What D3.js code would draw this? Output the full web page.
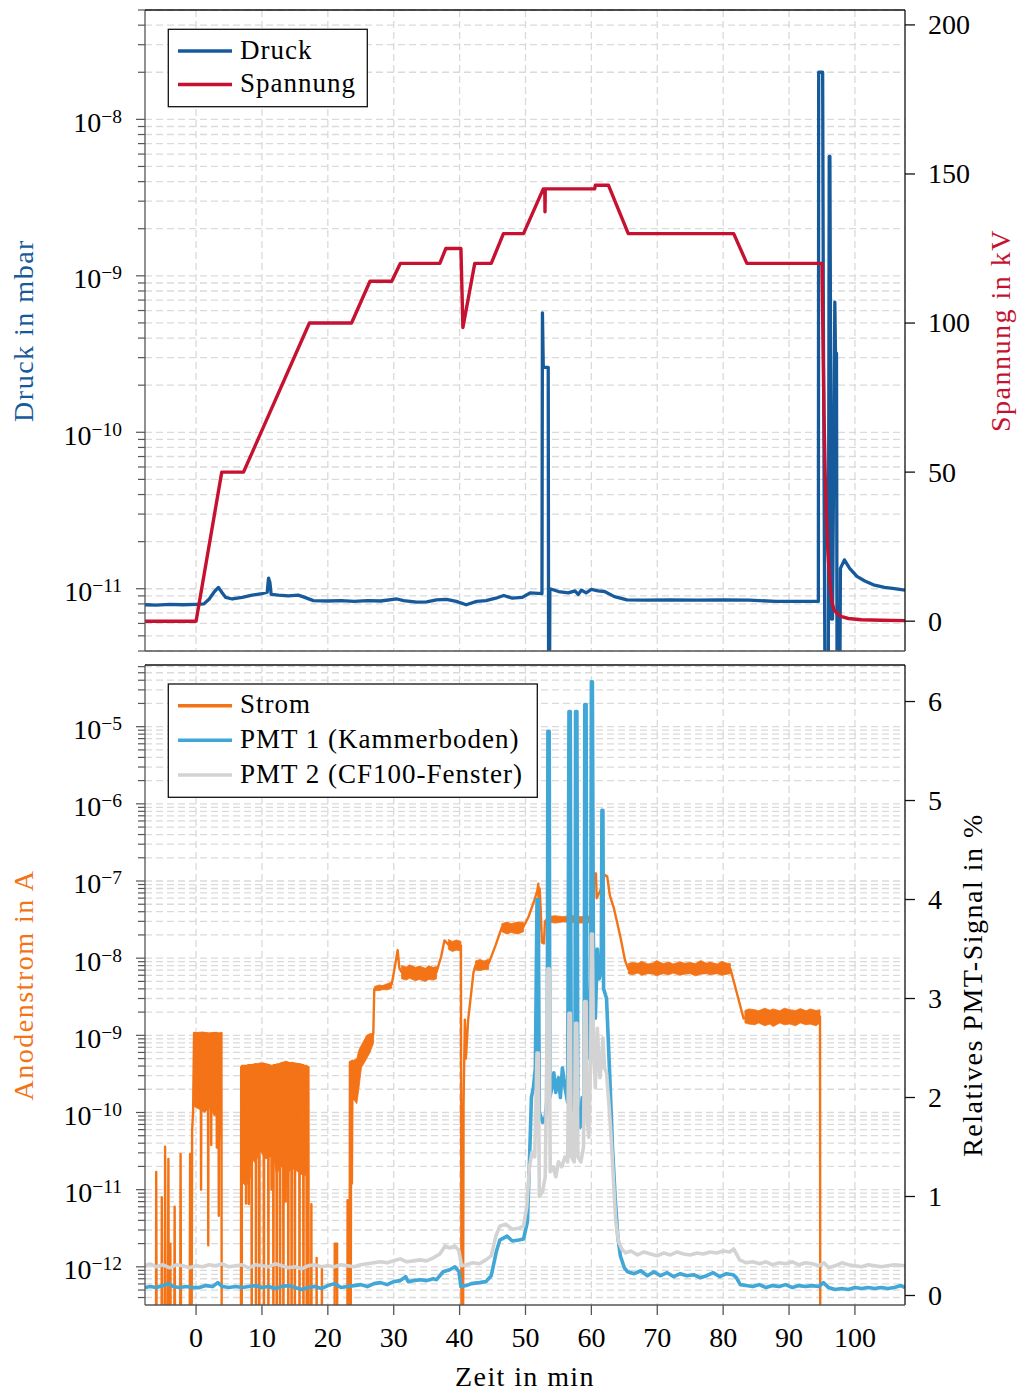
<!DOCTYPE html>
<html>
<head>
<meta charset="utf-8">
<script src="https://cdn.jsdelivr.net/npm/d3@7"></script>
<style>
  body { margin: 0; background: #fff; }
  text { font-family: "Liberation Serif", "Times New Roman", serif; fill: #000; }
</style>
</head>
<body>
<svg id="chart" width="1019" height="1392"></svg>
<script>
// ---------------------------------------------------------------------------
// Data (time in min)
// ---------------------------------------------------------------------------
const OFF = 1e-14; // reading below the bottom of the log axis

const timeDomain = [-7.75, 107.6];
const timeTicks = [0, 10, 20, 30, 40, 50, 60, 70, 80, 90, 100];

// Druck in mbar
const druck = [
  [-7.75, 7.9e-12], [-6, 7.85e-12], [-4, 7.95e-12], [-2, 7.9e-12], [0, 7.95e-12],
  [1.2, 8.0e-12], [2.0, 8.6e-12], [2.8, 9.6e-12], [3.4, 1.02e-11], [3.9, 9.5e-12],
  [4.5, 8.8e-12], [5.5, 8.6e-12], [7, 8.8e-12], [8.5, 9.1e-12], [10, 9.3e-12],
  [10.8, 9.5e-12], [11.0, 1.17e-11], [11.2, 1.1e-11], [11.4, 9.2e-12], [12.5, 9.1e-12],
  [14, 9.0e-12], [15.5, 9.1e-12], [16.5, 8.8e-12], [17.8, 8.4e-12], [20, 8.35e-12],
  [22, 8.4e-12], [24, 8.3e-12], [26, 8.4e-12], [28, 8.35e-12], [30.5, 8.6e-12],
  [31.5, 8.4e-12], [33.5, 8.2e-12], [35, 8.25e-12], [36.5, 8.5e-12], [38, 8.55e-12],
  [39.5, 8.3e-12], [41, 7.9e-12], [42.6, 8.3e-12], [44, 8.4e-12], [45.5, 8.7e-12],
  [46.7, 9.05e-12], [48, 8.7e-12], [49.5, 8.8e-12], [50.7, 9.4e-12], [52.5, 9.3e-12],
  [52.57, 5.8e-10], [52.7, 2.6e-10], [53.45, 2.6e-10], [53.55, 1e-13], [53.7, 1.0e-11],
  [55, 9.6e-12], [56.5, 9.4e-12], [57.5, 9.7e-12], [58, 9.2e-12], [58.5, 9.8e-12],
  [59.2, 9.4e-12], [60, 9.9e-12], [61, 9.7e-12], [62, 9.6e-12], [63.5, 8.9e-12],
  [65.4, 8.5e-12], [68, 8.45e-12], [72, 8.5e-12], [76, 8.45e-12], [80, 8.5e-12],
  [84, 8.45e-12], [88, 8.3e-12], [92, 8.3e-12], [94.45, 8.3e-12],
  [94.5, 2.0e-8], [95.1, 2.0e-8], [95.2, 7.7e-10], [95.3, 7.6e-11], [95.6, 1e-13],
  [95.9, 1e-13], [96.1, 5.8e-9], [96.2, 5.8e-9], [96.45, 6.4e-12], [96.6, 6.4e-12],
  [96.95, 6.8e-10], [97.05, 3.2e-10], [97.2, 3.2e-10], [97.35, 1e-13], [97.55, 1e-13],
  [97.8, 1.35e-11], [98.4, 1.53e-11], [99.2, 1.35e-11], [100.3, 1.2e-11],
  [101.5, 1.12e-11], [102.8, 1.06e-11], [104.5, 1.02e-11], [106, 1.0e-11], [107.6, 9.8e-12]
];

// Spannung in kV
const spannung = [
  [-7.75, 0], [0, 0], [3.9, 50], [7.2, 50], [17.2, 100], [23.6, 100], [26.4, 114],
  [29.7, 114], [31.0, 120], [37.0, 120], [37.9, 125], [40.2, 125], [40.5, 98.5],
  [42.3, 120], [44.8, 120], [46.65, 130], [49.7, 130], [52.7, 145], [52.93, 145],
  [52.96, 137.3], [53.0, 145], [60.5, 145], [60.6, 146.2], [62.6, 146.2], [65.6, 130],
  [81.6, 130], [83.6, 120], [95.0, 120], [95.15, 95], [95.3, 70], [95.5, 48],
  [95.7, 34], [95.9, 23], [96.2, 13], [96.5, 6.5], [96.8, 4], [97.3, 2.5], [98, 1.5],
  [99, 0.9], [101, 0.5], [104, 0.3], [107.6, 0.2]
];

// Anodenstrom in A
const strom = [
  [-7.75, OFF], [-6.1, OFF], [-6.05, 1.7e-11], [-5.95, OFF],
  [-5.25, OFF], [-5.2, 8e-12], [-5.1, OFF],
  [-4.75, OFF], [-4.7, 3.6e-11], [-4.6, OFF],
  [-4.3, OFF], [-4.2, 2.5e-11], [-4.1, OFF],
  [-4.0, OFF], [-3.9, 2e-12], [-3.8, OFF],
  [-3.35, OFF], [-3.25, 6e-12], [-3.15, OFF],
  [-2.45, OFF], [-2.35, 2.9e-11], [-2.25, OFF],
  [-1.0, OFF], [-0.9, 2.9e-11], [-0.8, OFF],
  [-0.7, OFF], [-0.6, 5.8e-11], [-0.45, 1.0e-10], [-0.3, 1.07e-9],
  [0.7, 1.05e-9], [0.76, 1.0e-11], [0.82, 1.08e-9],
  [1.8, 1.06e-9], [1.85, 1.9e-12], [1.9, 1.05e-9],
  [2.25, 1.05e-9], [2.3, 3.8e-11], [2.35, 1.06e-9],
  [3.1, 1.07e-9], [3.15, 3.5e-11], [3.2, 1.05e-9],
  [3.4, 1.06e-9], [3.45, 4.6e-12], [3.5, 1.05e-9],
  [3.85, 1.07e-9], [3.9, OFF],
  [6.8, OFF], [6.85, 3.9e-10], [6.9, 3.9e-10], [6.93, OFF], [6.97, 4.0e-10],
  [7.55, 4.0e-10], [7.59, 6.6e-12], [7.63, 4.0e-10],
  [7.96, 4.1e-10], [8.0, 6.5e-12], [8.04, 4.1e-10],
  [8.41, 4.1e-10], [8.45, OFF], [8.49, 4.1e-10],
  [9.06, 4.2e-10], [9.1, OFF], [9.14, 4.2e-10],
  [9.56, 4.2e-10], [9.6, OFF], [9.64, 4.3e-10],
  [10.26, 4.3e-10], [10.3, OFF], [10.34, 4.2e-10],
  [10.94, 4.1e-10], [10.98, OFF], [11.02, 4.1e-10],
  [11.41, 4.0e-10], [11.45, 1.0e-11], [11.49, 4.0e-10],
  [11.7, 4.0e-10], [11.74, OFF], [11.78, 4.1e-10],
  [12.2, 4.1e-10], [12.24, OFF], [12.28, 4.2e-10],
  [12.71, 4.2e-10], [12.75, OFF], [12.79, 4.3e-10],
  [13.22, 4.4e-10], [13.26, OFF], [13.3, 4.4e-10],
  [13.56, 4.5e-10], [13.6, 7e-12], [13.64, 4.5e-10],
  [13.96, 4.4e-10], [14.0, OFF], [14.04, 4.4e-10],
  [14.46, 4.3e-10], [14.5, OFF], [14.54, 4.4e-10],
  [14.96, 4.3e-10], [15.0, OFF], [15.04, 4.3e-10],
  [15.66, 4.2e-10], [15.7, OFF], [15.74, 4.2e-10],
  [16.26, 4.1e-10], [16.3, OFF], [16.34, 4.0e-10],
  [16.76, 4.0e-10], [16.8, OFF], [16.84, 3.9e-10],
  [17.05, 3.9e-10], [17.1, OFF],
  [17.45, OFF], [17.5, 6.5e-12], [17.55, OFF],
  [18.25, OFF], [18.3, 1.3e-12], [18.35, OFF],
  [19.05, OFF], [19.1, 1.0e-12], [19.15, OFF],
  [21.0, OFF], [21.05, 2.0e-12], [21.4, 2.0e-12], [21.45, OFF],
  [22.95, OFF], [23.0, 7.3e-12], [23.05, OFF],
  [23.3, OFF], [23.35, 4.5e-10], [23.45, OFF], [23.55, 4.6e-10], [23.65, 1.2e-11],
  [23.75, 4.7e-10], [23.85, 1.5e-10], [24.4, 2.5e-10], [24.7, 3.5e-10], [25.1, 5.5e-10],
  [25.9, 7.0e-10], [26.4, 8.5e-10], [26.9, 1.05e-9], [27.05, 4.0e-9],
  [27.6, 4.2e-9], [28.3, 4.3e-9], [29.0, 4.4e-9], [29.7, 4.6e-9], [30.2, 8e-9],
  [30.6, 1.27e-8], [30.85, 7.5e-9], [31.2, 6.6e-9], [32, 6.5e-9], [33, 6.4e-9],
  [34, 6.2e-9], [35, 6.4e-9], [36, 6.3e-9], [36.5, 6.6e-9], [37.2, 1.05e-8],
  [37.7, 1.7e-8], [38.3, 1.5e-8], [39, 1.45e-8], [39.7, 1.4e-8], [40.2, 1.45e-8],
  [40.3, OFF], [40.5, OFF], [40.6, 1.3e-10], [40.8, 1.6e-9], [40.95, 5e-10],
  [41.3, 1.6e-9], [41.7, 3.2e-9], [42.1, 6.5e-9], [42.4, 8.0e-9], [43, 8.2e-9],
  [43.7, 8.3e-9], [44.4, 8.5e-9], [45.5, 1.5e-8], [46.4, 2.5e-8], [47.5, 2.5e-8],
  [48.5, 2.45e-8], [49.7, 2.55e-8], [50.5, 3.5e-8], [51.3, 5.5e-8], [51.8, 7.5e-8],
  [51.95, 9.2e-8], [52.05, 2.3e-8], [52.15, 8.0e-8], [52.3, 4.5e-8], [52.5, 1.6e-8],
  [52.8, 1.55e-8], [52.95, 3.0e-8], [53.3, 3.2e-8], [54, 3.1e-8], [55, 3.2e-8],
  [56, 3.25e-8], [57, 3.3e-8], [58, 3.2e-8], [59, 3.2e-8], [60.3, 3.3e-8],
  [60.4, 1.25e-7], [60.7, 1.25e-7], [60.8, 6e-8], [61.5, 8e-8], [62.0, 1.2e-7],
  [62.4, 1.15e-7], [62.8, 6.5e-8], [63.4, 4.5e-8], [64.4, 1.9e-8], [65.1, 9.4e-9],
  [65.6, 7.2e-9], [67, 7.3e-9], [69, 7.2e-9], [71, 7.4e-9], [73, 7.3e-9], [75, 7.2e-9],
  [77, 7.3e-9], [79, 7.4e-9], [81.1, 7.3e-9], [82.3, 3.0e-9], [83.1, 1.65e-9],
  [84, 1.8e-9], [86, 1.75e-9], [88, 1.8e-9], [90, 1.75e-9], [92, 1.8e-9],
  [94.7, 1.75e-9], [94.75, OFF]
];

// Spread of the fast-fluctuating current: [t, lower, upper]
const stromSpread = [
  [[-0.3, 1.2e-10, 1.05e-9], [0.5, 1.1e-10, 1.1e-9], [1.3, 1.0e-10, 1.05e-9], [2.0, 1.15e-10, 1.07e-9],
   [2.8, 9e-11, 1.08e-9], [3.4, 1.0e-10, 1.05e-9], [3.85, 4e-11, 1.07e-9]],
  [[6.85, 1.3e-11, 3.9e-10], [7.6, 1.1e-11, 4.0e-10], [8.2, 1.4e-11, 4.1e-10], [8.4, 2.6e-11, 4.1e-10],
   [9.0, 2.2e-11, 4.3e-10], [9.7, 3.2e-11, 4.2e-10], [10.6, 2.5e-11, 4.3e-10], [11.7, 2.8e-11, 4.0e-10],
   [12.2, 1.6e-11, 4.1e-10], [13.0, 2.0e-11, 4.4e-10], [13.8, 1.6e-11, 4.5e-10], [14.6, 1.9e-11, 4.3e-10],
   [15.5, 1.7e-11, 4.3e-10], [16.3, 1.5e-11, 4.1e-10], [17.05, 1.6e-11, 3.9e-10]],
  [[23.85, 1.5e-10, 4.7e-10], [24.4, 1.3e-10, 5.0e-10], [24.7, 2.0e-10, 6.4e-10], [25.1, 3.8e-10, 7.5e-10],
   [25.9, 5.0e-10, 1.0e-9], [26.4, 6.0e-10, 1.05e-9], [26.95, 8e-10, 1.07e-9]],
  [[27.1, 3.8e-9, 4.3e-9], [27.8, 3.8e-9, 4.5e-9], [28.3, 3.9e-9, 4.4e-9], [29.1, 3.9e-9, 4.7e-9],
   [29.7, 4.1e-9, 4.9e-9]],
  [[31.2, 5.4e-9, 8.0e-9], [31.9, 5.2e-9, 7.7e-9], [32.4, 5.5e-9, 8.2e-9], [33.3, 5.1e-9, 7.6e-9],
   [33.9, 5.3e-9, 7.9e-9], [34.8, 5.0e-9, 7.4e-9], [35.3, 5.3e-9, 8.0e-9], [36.0, 5.2e-9, 7.6e-9],
   [36.5, 5.4e-9, 7.8e-9]],
  [[38.3, 1.3e-8, 1.75e-8], [38.9, 1.22e-8, 1.65e-8], [39.5, 1.27e-8, 1.72e-8], [40.2, 1.25e-8, 1.65e-8]],
  [[42.4, 7.0e-9, 9.2e-9], [43.1, 6.9e-9, 9.6e-9], [43.7, 7.1e-9, 9.2e-9], [44.4, 7.2e-9, 9.7e-9]],
  [[46.4, 2.2e-8, 2.8e-8], [47.2, 2.05e-8, 2.95e-8], [47.8, 2.15e-8, 2.8e-8], [48.8, 2.05e-8, 2.95e-8],
   [49.7, 2.2e-8, 2.9e-8]],
  [[53.3, 2.95e-8, 3.45e-8], [54.5, 2.85e-8, 3.55e-8], [55.7, 2.95e-8, 3.45e-8], [57.0, 2.9e-8, 3.6e-8],
   [58.3, 2.85e-8, 3.45e-8], [60.3, 2.9e-8, 3.55e-8]],
  [[65.6, 6.3e-9, 8.5e-9], [66.2, 6.1e-9, 8.8e-9], [67.1, 6.4e-9, 8.6e-9], [67.6, 6.0e-9, 9.1e-9],
   [68.6, 6.3e-9, 8.4e-9], [69.4, 6.2e-9, 8.7e-9], [69.9, 5.9e-9, 9.3e-9], [70.9, 6.3e-9, 8.5e-9],
   [71.8, 6.1e-9, 8.9e-9], [72.4, 6.4e-9, 8.4e-9], [73.5, 6.0e-9, 9.0e-9], [74.1, 6.2e-9, 8.6e-9],
   [75.0, 6.3e-9, 8.8e-9], [75.8, 5.9e-9, 8.5e-9], [76.6, 6.2e-9, 9.3e-9], [77.5, 6.3e-9, 8.6e-9],
   [78.0, 6.1e-9, 8.9e-9], [79.1, 6.3e-9, 8.4e-9], [79.8, 6.0e-9, 9.1e-9], [80.6, 6.2e-9, 8.6e-9],
   [81.1, 6.3e-9, 8.5e-9]],
  [[83.3, 1.45e-9, 2.1e-9], [83.9, 1.4e-9, 2.2e-9], [84.8, 1.37e-9, 2.15e-9], [85.4, 1.45e-9, 2.08e-9],
   [86.3, 1.33e-9, 2.25e-9], [87.1, 1.4e-9, 2.12e-9], [87.6, 1.3e-9, 2.2e-9], [88.6, 1.45e-9, 2.08e-9],
   [89.3, 1.37e-9, 2.25e-9], [90.1, 1.4e-9, 2.15e-9], [91.0, 1.33e-9, 2.1e-9], [91.7, 1.45e-9, 2.22e-9],
   [92.6, 1.37e-9, 2.08e-9], [93.2, 1.4e-9, 2.2e-9], [94.1, 1.33e-9, 2.1e-9], [94.7, 1.45e-9, 2.15e-9]]
];

// Relatives PMT-Signal in %
const pmt1 = [
  [-7.75, 0.08], [-7, 0.09], [-6, 0.08], [-5, 0.1], [-4.2, 0.12], [-3.5, 0.09], [-2.5, 0.08],
  [-1.5, 0.09], [-0.5, 0.08], [0.5, 0.08], [1.5, 0.1], [2.5, 0.09], [3.3, 0.13], [4, 0.09],
  [5, 0.08], [6, 0.09], [7, 0.08], [8, 0.09], [9, 0.1], [10, 0.08], [11, 0.09], [12, 0.07],
  [13, 0.09], [14, 0.1], [15, 0.08], [16, 0.06], [17, 0.08], [18, 0.09], [19, 0.07], [20, 0.1],
  [21, 0.12], [22, 0.08], [23, 0.09], [24, 0.1], [25, 0.11], [26, 0.09], [27, 0.12], [28, 0.13],
  [29, 0.11], [30, 0.14], [31, 0.15], [31.8, 0.19], [32.2, 0.14], [33, 0.15], [34, 0.16],
  [35, 0.15], [36, 0.17], [36.5, 0.16], [37.5, 0.24], [38.5, 0.26], [39.3, 0.29], [39.9, 0.24],
  [40.2, 0.09], [41, 0.1], [41.8, 0.12], [43, 0.13], [44, 0.14], [44.8, 0.2], [45.6, 0.45],
  [46.1, 0.56], [47.2, 0.6], [48, 0.55], [49, 0.56], [49.7, 0.57], [50.3, 0.75], [50.6, 1.35],
  [50.9, 2.0], [51.2, 2.1], [51.5, 2.3], [51.75, 4.0], [51.95, 4.0], [52.1, 1.85], [52.6, 1.75],
  [53.0, 1.8], [53.3, 2.0], [53.4, 5.7], [53.6, 5.7], [53.7, 2.0], [54.0, 2.1], [54.3, 2.25],
  [54.6, 2.05], [55, 2.2], [55.3, 2.0], [55.6, 2.3], [56.0, 2.1], [56.4, 1.95], [56.6, 5.9],
  [56.8, 5.9], [56.95, 1.9], [57.5, 1.85], [57.6, 5.9], [57.8, 5.9], [57.95, 1.8], [58.3, 1.7],
  [58.6, 2.0], [58.9, 1.9], [59.0, 5.97], [59.2, 5.97], [59.3, 3.0], [59.6, 2.4], [59.9, 3.2],
  [60.0, 6.2], [60.15, 6.2], [60.3, 3.6], [60.6, 2.8], [60.9, 3.5], [61.2, 3.2], [61.5, 3.3],
  [61.6, 4.9], [61.75, 4.9], [61.85, 3.1], [62.3, 3.0], [62.8, 2.2], [63.2, 1.5], [63.6, 1.0],
  [64.0, 0.6], [64.4, 0.4], [65.0, 0.28], [65.5, 0.24], [66.5, 0.22], [67.5, 0.25], [68.5, 0.2],
  [69.5, 0.24], [70.5, 0.2], [71.5, 0.23], [72.5, 0.19], [73.5, 0.22], [74.5, 0.2], [75.5, 0.21],
  [76.5, 0.18], [77.5, 0.2], [78.5, 0.23], [79.5, 0.19], [80.5, 0.22], [81.5, 0.21], [82.0, 0.18],
  [82.6, 0.11], [83.5, 0.1], [84.5, 0.09], [85.5, 0.11], [86.5, 0.08], [87.5, 0.1], [88.5, 0.09],
  [89.5, 0.11], [90.5, 0.08], [91.5, 0.1], [92.5, 0.09], [93.5, 0.1], [94.5, 0.09], [95.2, 0.13],
  [96, 0.08], [97, 0.06], [98, 0.07], [99, 0.06], [100, 0.08], [101, 0.07], [102, 0.08],
  [103, 0.07], [104, 0.08], [105, 0.07], [106, 0.08], [107, 0.1], [107.6, 0.08]
];

const pmt2 = [
  [-7.75, 0.3], [-7, 0.32], [-6, 0.29], [-5, 0.31], [-4, 0.28], [-3, 0.31], [-2, 0.3], [-1, 0.28],
  [0, 0.3], [1, 0.29], [2, 0.31], [3, 0.3], [4, 0.32], [5, 0.29], [6, 0.3], [7, 0.31], [8, 0.28],
  [9, 0.31], [10, 0.3], [11, 0.29], [12, 0.32], [13, 0.3], [14, 0.28], [15, 0.29], [16, 0.27],
  [17, 0.3], [18, 0.31], [19, 0.29], [20, 0.3], [21, 0.29], [22, 0.31], [23, 0.3], [24, 0.29],
  [25, 0.31], [26, 0.32], [27, 0.33], [28, 0.34], [29, 0.33], [30, 0.35], [31, 0.37], [32, 0.34],
  [33, 0.35], [34, 0.36], [35, 0.35], [36, 0.38], [37, 0.42], [37.8, 0.5], [38.5, 0.48],
  [39.3, 0.5], [39.9, 0.45], [40.3, 0.3], [41, 0.31], [42, 0.33], [43, 0.32], [44, 0.36],
  [44.8, 0.4], [45.5, 0.6], [46.1, 0.7], [47, 0.72], [48, 0.67], [49, 0.68], [49.7, 0.7],
  [50.2, 0.9], [50.6, 1.3], [51.0, 1.45], [51.4, 1.4], [51.75, 2.45], [51.95, 2.45], [52.1, 1.0],
  [52.6, 1.05], [53.0, 1.2], [53.4, 3.3], [53.6, 3.3], [53.75, 1.25], [54.2, 1.3], [54.6, 1.2],
  [55, 1.35], [55.5, 1.3], [56, 1.4], [56.4, 1.35], [56.6, 2.85], [56.8, 2.85], [56.95, 1.4],
  [57.4, 1.35], [57.6, 2.75], [57.8, 2.75], [57.95, 1.4], [58.4, 1.35], [58.8, 1.5], [59.0, 2.97],
  [59.2, 2.97], [59.35, 1.8], [59.6, 1.6], [59.9, 2.4], [60.0, 3.65], [60.15, 3.65], [60.3, 2.6],
  [60.6, 2.1], [60.9, 2.7], [61.3, 2.2], [61.6, 2.4], [61.75, 2.6], [62.0, 2.3], [62.3, 2.25],
  [62.7, 1.9], [63.0, 1.6], [63.4, 1.1], [63.7, 0.75], [64.1, 0.55], [64.6, 0.47], [65.2, 0.43],
  [66, 0.45], [67, 0.41], [68, 0.44], [69, 0.42], [70, 0.4], [71, 0.43], [72, 0.41], [73, 0.44],
  [74, 0.42], [75, 0.41], [76, 0.43], [77, 0.42], [78, 0.44], [79, 0.43], [80, 0.45], [81, 0.44],
  [81.6, 0.47], [82.5, 0.36], [83.5, 0.33], [84.5, 0.34], [85.5, 0.32], [86.5, 0.34], [87.5, 0.31],
  [88.5, 0.33], [89.5, 0.32], [90.5, 0.34], [91.5, 0.31], [92.5, 0.33], [93.5, 0.32], [94.5, 0.3],
  [95.3, 0.33], [96, 0.28], [97, 0.3], [98, 0.33], [99, 0.31], [100, 0.3], [101, 0.29],
  [102, 0.31], [103, 0.3], [104, 0.29], [105, 0.3], [106, 0.31], [107.6, 0.3]
];

const druckTicks = [-11, -10, -9, -8];                 // exponents
const spannungTicks = [0, 50, 100, 150, 200];
const stromTicks = [-12, -11, -10, -9, -8, -7, -6, -5]; // exponents
const pmtTicks = [0, 1, 2, 3, 4, 5, 6];

// ---------------------------------------------------------------------------
// Layout and scales
// ---------------------------------------------------------------------------
const C = {
  druck: "#175a9c", spannung: "#c61230", strom: "#f37316",
  pmt1: "#41a7d6", pmt2: "#d3d3d3", grid: "#dadada"
};
const L = 145, R = 905;
const P1 = { top: 10, bottom: 651 };
const P2 = { top: 665, bottom: 1305 };

const svg = d3.select("#chart");
const x = d3.scaleLinear().domain(timeDomain).range([L, R]);
const yDruck = d3.scaleLog().domain([4e-12, 5e-8]).range([P1.bottom, P1.top]);
const yVolt = d3.scaleLinear().domain([-10, 205]).range([P1.bottom, P1.top]);
const yStrom = d3.scaleLog().domain([3.2e-13, 6.3e-5]).range([P2.bottom, P2.top]);
const yPmt = d3.scaleLinear().domain([-0.096, 6.369]).range([P2.bottom, P2.top]);

const defs = svg.append("defs");
[["clip1", P1], ["clip2", P2]].forEach(([id, p]) => {
  defs.append("clipPath").attr("id", id)
    .append("rect").attr("x", L).attr("y", p.top).attr("width", R - L).attr("height", p.bottom - p.top);
});

function minorValues(scale) {
  const [a, b] = scale.domain();
  const out = [];
  for (let e = Math.floor(Math.log10(a)); e <= Math.ceil(Math.log10(b)); e++) {
    for (let k = 1; k <= 9; k++) {
      const v = k * Math.pow(10, e);
      if (v >= a * 0.999 && v <= b * 1.001) out.push({ v, major: k === 1 });
    }
  }
  return out;
}

function grid(panel, yScale) {
  const g = svg.append("g");
  minorValues(yScale).forEach(d => {
    const y = yScale(d.v);
    g.append("line").attr("x1", L).attr("x2", R).attr("y1", y).attr("y2", y)
      .attr("stroke", C.grid).attr("stroke-width", 1.3).attr("stroke-dasharray", "7 4");
  });
  timeTicks.forEach(t => {
    g.append("line").attr("x1", x(t)).attr("x2", x(t)).attr("y1", panel.top).attr("y2", panel.bottom)
      .attr("stroke", C.grid).attr("stroke-width", 1.3).attr("stroke-dasharray", "7 4");
  });
}

function logAxis(panel, yScale, exps) {
  const g = svg.append("g");
  minorValues(yScale).forEach(d => {
    const y = yScale(d.v);
    g.append("line").attr("x1", L - (d.major ? 9 : 7)).attr("x2", L).attr("y1", y).attr("y2", y)
      .attr("stroke", "#555").attr("stroke-width", 1.2);
  });
  exps.forEach(e => {
    const y = yScale(Math.pow(10, e));
    const t = g.append("text").attr("x", 122).attr("y", y + 12.4)
      .attr("text-anchor", "end").attr("font-size", 28);
    t.append("tspan").text("10");
    t.append("tspan").attr("dy", -9).attr("font-size", 19.5).text("\u2212" + Math.abs(e));
  });
  g.append("line").attr("x1", L).attr("x2", L).attr("y1", panel.top).attr("y2", panel.bottom)
    .attr("stroke", "#555").attr("stroke-width", 1.3);
}

function linAxisRight(panel, yScale, ticks) {
  const g = svg.append("g");
  ticks.forEach(v => {
    const y = yScale(v);
    g.append("line").attr("x1", R).attr("x2", R + 10).attr("y1", y).attr("y2", y)
      .attr("stroke", "#111").attr("stroke-width", 1.3);
    g.append("text").attr("x", 928).attr("y", y + 9.4).attr("font-size", 28).text(v);
  });
  g.append("line").attr("x1", R).attr("x2", R).attr("y1", panel.top).attr("y2", panel.bottom)
    .attr("stroke", "#111").attr("stroke-width", 1.3);
  g.append("line").attr("x1", L).attr("x2", R).attr("y1", panel.top).attr("y2", panel.top)
    .attr("stroke", "#111").attr("stroke-width", 1.3);
  g.append("line").attr("x1", L).attr("x2", R).attr("y1", panel.bottom).attr("y2", panel.bottom)
    .attr("stroke", "#555").attr("stroke-width", 1.3);
}

function series(clip, data, yScale, color, width) {
  const line = d3.line().x(d => x(d[0])).y(d => yScale(d[1]));
  svg.append("path").attr("clip-path", `url(#${clip})`).attr("d", line(data))
    .attr("fill", "none").attr("stroke", color).attr("stroke-width", width)
    .attr("stroke-linejoin", "round").attr("stroke-linecap", "butt");
}

function rotatedTitle(cx, cy, text, color) {
  svg.append("text").attr("transform", `translate(${cx},${cy}) rotate(-90)`)
    .attr("text-anchor", "middle").attr("font-size", 28).attr("letter-spacing", 1.5)
    .style("fill", color).text(text);
}

function legend(x0, y0, w, h, entries) {
  const g = svg.append("g");
  g.append("rect").attr("x", x0).attr("y", y0).attr("width", w).attr("height", h)
    .attr("fill", "#fff").attr("stroke", "#111").attr("stroke-width", 1.3);
  entries.forEach(e => {
    g.append("line").attr("x1", 178).attr("x2", 232).attr("y1", e.y).attr("y2", e.y)
      .attr("stroke", e.color).attr("stroke-width", 3.5);
    g.append("text").attr("x", 240).attr("y", e.y + 7.5).attr("font-size", 27)
      .attr("letter-spacing", 1.0).text(e.label);
  });
}

// ---------------------------------------------------------------------------
// Upper panel: Druck / Spannung
// ---------------------------------------------------------------------------
grid(P1, yDruck);
series("clip1", druck, yDruck, C.druck, 3.3);
series("clip1", spannung, yVolt, C.spannung, 3.4);
logAxis(P1, yDruck, druckTicks);
linAxisRight(P1, yVolt, spannungTicks);
rotatedTitle(33, (P1.top + P1.bottom) / 2, "Druck in mbar", C.druck);
rotatedTitle(1010, (P1.top + P1.bottom) / 2, "Spannung in kV", C.spannung);
legend(168.3, 29.3, 199, 77.4, [
  { y: 51, color: C.druck, label: "Druck" },
  { y: 84.5, color: C.spannung, label: "Spannung" }
]);

// ---------------------------------------------------------------------------
// Lower panel: Anodenstrom / PMT signals
// ---------------------------------------------------------------------------
grid(P2, yStrom);
const spreadArea = d3.area().x(d => x(d[0])).y0(d => yStrom(d[1])).y1(d => yStrom(d[2]));
stromSpread.forEach(seg => {
  svg.append("path").attr("clip-path", "url(#clip2)").attr("d", spreadArea(seg))
    .attr("fill", C.strom).attr("stroke", C.strom).attr("stroke-width", 0.8);
});
series("clip2", strom, yStrom, C.strom, 2.4);
series("clip2", pmt1, yPmt, C.pmt1, 3.6);
series("clip2", pmt2, yPmt, C.pmt2, 3.6);
logAxis(P2, yStrom, stromTicks);
linAxisRight(P2, yPmt, pmtTicks);

// time axis
const gx = svg.append("g");
timeTicks.forEach(t => {
  gx.append("line").attr("x1", x(t)).attr("x2", x(t)).attr("y1", P2.bottom).attr("y2", P2.bottom + 10)
    .attr("stroke", "#555").attr("stroke-width", 1.3);
  gx.append("text").attr("x", x(t)).attr("y", 1346.5).attr("text-anchor", "middle")
    .attr("font-size", 28).text(t);
});
svg.append("text").attr("x", (L + R) / 2).attr("y", 1386).attr("text-anchor", "middle")
  .attr("font-size", 28).attr("letter-spacing", 1.4).text("Zeit in min");

rotatedTitle(33, (P2.top + P2.bottom) / 2, "Anodenstrom in A", C.strom);
rotatedTitle(982, (P2.top + P2.bottom) / 2, "Relatives PMT-Signal in %", "#000");
legend(168.3, 684, 369, 113.3, [
  { y: 705.7, color: C.strom, label: "Strom" },
  { y: 740.3, color: C.pmt1, label: "PMT 1 (Kammerboden)" },
  { y: 775, color: C.pmt2, label: "PMT 2 (CF100-Fenster)" }
]);
</script>
</body>
</html>
